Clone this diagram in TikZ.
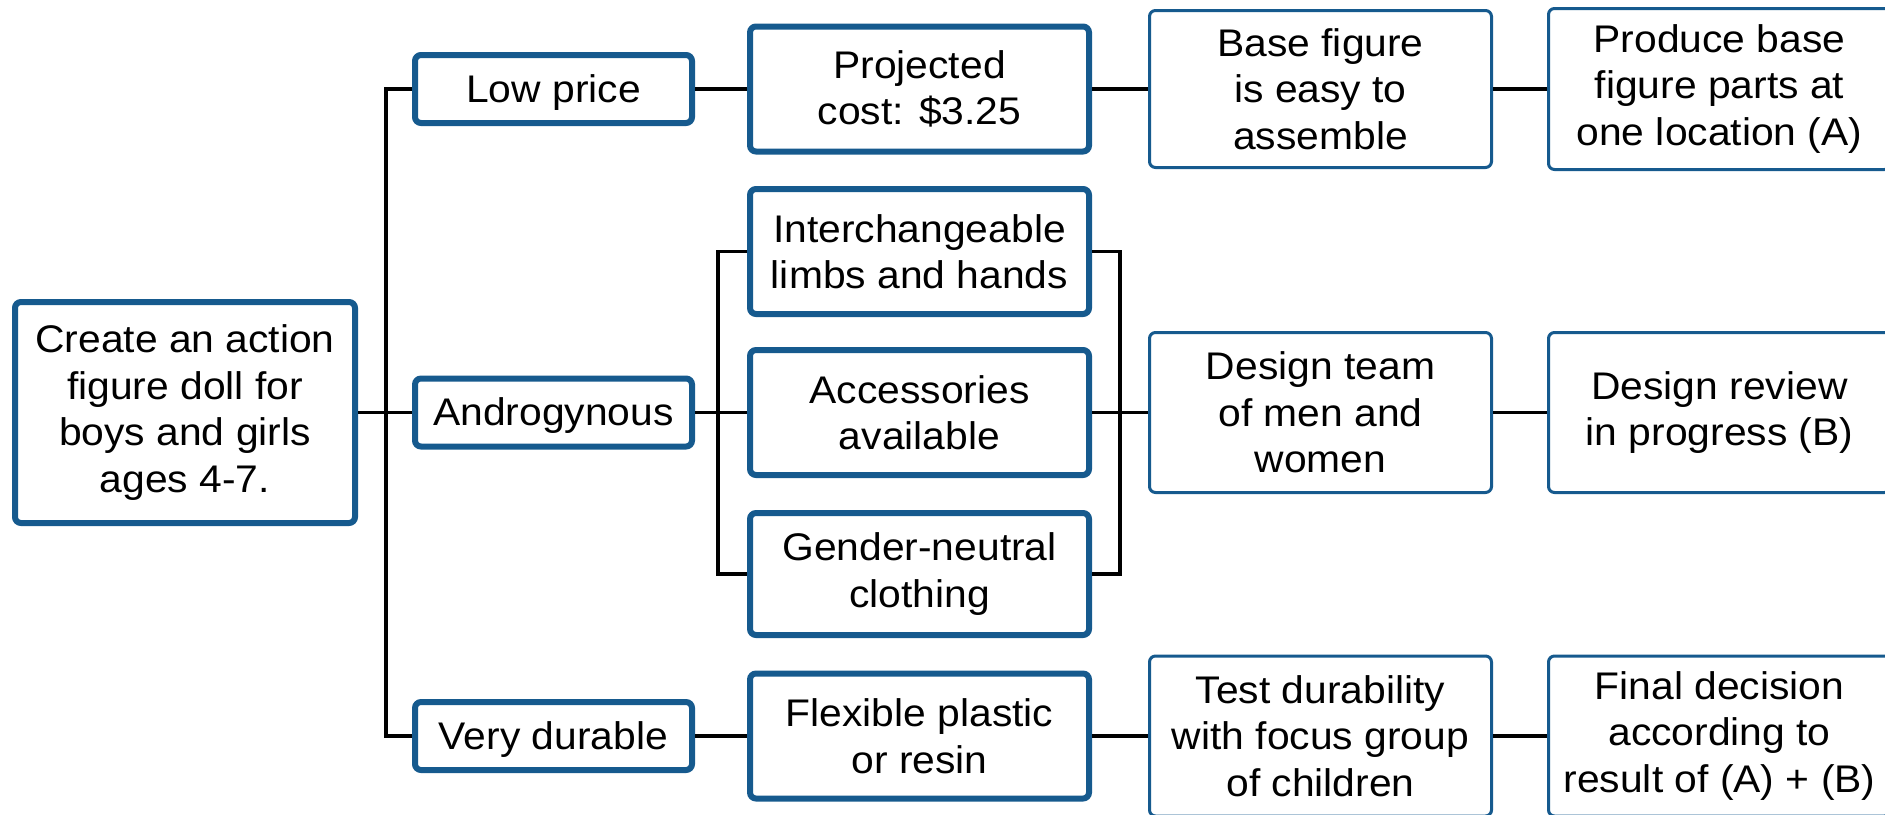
\documentclass[tikz,border=0pt]{standalone}
\usepackage{fontspec}
\setmainfont[FakeStretch=1.06]{Liberation Sans}
\definecolor{boxblue}{RGB}{22,90,142}
\begin{document}
\begin{tikzpicture}[x=0.4pt,y=-0.4pt,
  font=\fontsize{15.4pt}{18.6pt}\selectfont,
  basebox/.style={draw=boxblue, fill=white, rounded corners=2.4pt, align=center, inner sep=0pt},
  heavybox/.style={basebox, line width=2.4pt},
  lightbox/.style={basebox, line width=1.2pt},
  oneline/.style={text height=13.6pt, text depth=3.2pt},
  dims/.style 2 args={minimum width=#1*0.4pt, minimum height=#2*0.4pt},
  link/.style={line width=1.4pt, black}]
\useasboundingbox (0,0) rectangle (1885,814);

% goal
\node[heavybox, dims={340}{221}] (root) at (185,412.5) {Create an action\\figure doll for\\boys and girls\\ages 4-7.};

% requirements
\node[heavybox, oneline, dims={277}{68}] (low)   at (553.5,89)  {Low price};
\node[heavybox, oneline, dims={277}{68}] (andro) at (553.5,412.5) {Androgynous};
\node[heavybox, oneline, dims={277}{68}] (vdur)  at (553.5,736) {Very durable};

% features
\node[heavybox, dims={339}{125}] (proj)   at (919.5,89)    {Projected\\cost: \$3.25};
\node[heavybox, dims={339}{125}] (inter)  at (919.5,251.5) {Interchangeable\\limbs and hands};
\node[heavybox, dims={339}{125}] (acc)    at (919.5,412.5) {Accessories\\available};
\node[heavybox, dims={339}{122}] (gender) at (919.5,574)   {Gender-neutral\\clothing};
\node[heavybox, dims={339}{125}] (flex)   at (919.5,736)   {Flexible plastic\\or resin};

% actions
\node[lightbox, dims={342}{157}] (base) at (1320.5,89)    {Base figure\\is easy to\\assemble};
\node[lightbox, dims={342}{160}] (team) at (1320.5,412.5) {Design team\\of men and\\women};
\node[lightbox, dims={342}{160}] (test) at (1320.5,736)   {Test durability\\with focus group\\of children};

% outcomes
\node[lightbox, dims={342}{161}] (produce) at (1719.5,89)    {Produce base\\figure parts at\\one location (A)};
\node[lightbox, dims={342}{160}] (review)  at (1719.5,412.5) {Design review\\in progress (B)};
\node[lightbox, dims={342}{160}] (final)   at (1719.5,736)   {Final decision\\according to\\result of (A) + (B)};

% junction points of the tree
\coordinate (bus) at (386,412.5);
\coordinate (lbr) at (718,412.5);
\coordinate (rbr) at (1120,412.5);

\draw[link] (root.east) -- (andro.west);
\draw[link] (low.west) -| (bus) |- (vdur.west);

\draw[link] (low.east) -- (proj.west);
\draw[link] (proj.east) -- (base.west);
\draw[link] (base.east) -- (produce.west);

\draw[link] (andro.east) -- (acc.west);
\draw[link] (inter.west) -| (lbr) |- (gender.west);
\draw[link] (inter.east) -| (rbr) |- (gender.east);
\draw[link] (acc.east) -- (team.west);
\draw[link] (team.east) -- (review.west);

\draw[link] (vdur.east) -- (flex.west);
\draw[link] (flex.east) -- (test.west);
\draw[link] (test.east) -- (final.west);
\end{tikzpicture}
\end{document}
